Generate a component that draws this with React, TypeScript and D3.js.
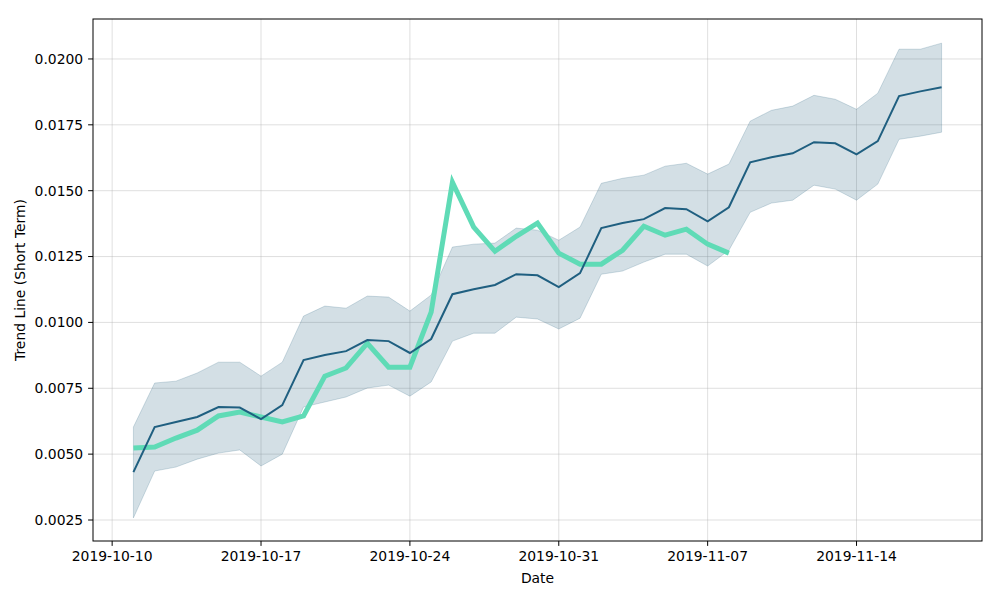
import React from "react";
import * as d3 from "d3";

const startDate = "2019-10-11";
const trendMean = [0.00432, 0.00603, 0.00622, 0.00641, 0.00679, 0.00677, 0.00633, 0.00686, 0.00857, 0.00876,
  0.00891, 0.00933, 0.00929, 0.00884, 0.00937, 0.01107, 0.01126, 0.01142, 0.01183, 0.01179,
  0.01134, 0.01187, 0.01358, 0.01377, 0.01392, 0.01434, 0.0143, 0.01384, 0.01437, 0.01608,
  0.01627, 0.01642, 0.01684, 0.0168, 0.01638, 0.01688, 0.01859, 0.01877, 0.01893];
const trendUpper = [0.00603, 0.0077, 0.00777, 0.00808, 0.00849, 0.00849, 0.00796, 0.00849, 0.01024, 0.01062,
  0.01054, 0.011, 0.01096, 0.01043, 0.01104, 0.01286, 0.01297, 0.01301, 0.01358, 0.0135,
  0.01312, 0.01362, 0.01528, 0.01547, 0.01559, 0.01593, 0.01604, 0.01563, 0.01601, 0.01764,
  0.01805, 0.01821, 0.01862, 0.01847, 0.01809, 0.0187, 0.02037, 0.02037, 0.0206];
const trendLower = [0.00258, 0.00436, 0.00451, 0.00481, 0.00504, 0.00516, 0.00455, 0.005, 0.00679, 0.00698,
  0.00717, 0.00751, 0.00762, 0.0072, 0.00774, 0.00929, 0.00959, 0.00959, 0.0102, 0.01013,
  0.00975, 0.01016, 0.01183, 0.01195, 0.01229, 0.01259, 0.01259, 0.01214, 0.01274, 0.01418,
  0.01453, 0.01464, 0.01521, 0.01506, 0.01464, 0.01525, 0.01695, 0.01707, 0.01722];
const actual = [0.00523, 0.00527, 0.00561, 0.00591, 0.00645, 0.0066, 0.00641, 0.00622, 0.00645, 0.00796,
  0.00827, 0.00921, 0.0083, 0.0083, 0.01039, 0.01532, 0.01362, 0.0127, 0.01327, 0.01377,
  0.01263, 0.01221, 0.01221, 0.01274, 0.01365, 0.01331, 0.01354, 0.01297, 0.01263];
const yTicks = [0.0025, 0.005, 0.0075, 0.01, 0.0125, 0.015, 0.0175, 0.02];
const xTickLabels = ["2019-10-10", "2019-10-17", "2019-10-24", "2019-10-31", "2019-11-07", "2019-11-14"];

const W = 1000, H = 600;
const m = { left: 93, right: 982, top: 19, bottom: 541 };
const parse = d3.utcParse("%Y-%m-%d");
const DAY = 86400000;

export default function App() {
  const t0 = parse(startDate)!.getTime();
  const dates = trendMean.map((_, i) => new Date(t0 + i * DAY));
  const span = (dates[dates.length - 1].getTime() - t0);
  const x = d3.scaleUtc()
    .domain([new Date(t0 - span * 0.05), new Date(t0 + span * 1.05)])
    .range([m.left, m.right]);
  const y = d3.scaleLinear().domain([0.001703, 0.021517]).range([m.bottom, m.top]);

  const area = d3.area<number>()
    .x((_, i) => x(dates[i]))
    .y0((_, i) => y(trendLower[i]))
    .y1((d) => y(d));
  const line = d3.line<number>().x((_, i) => x(dates[i])).y((d) => y(d));

  const font = "DejaVu Sans, sans-serif";
  const fs = 13.9;
  const tickLen = 4.9;

  return (
    <svg width={W} height={H} style={{ position: "absolute", left: 0, top: 0, background: "#fff" }}
      fontFamily={font}>
      <rect x={0} y={0} width={W} height={H} fill="#fff" />
      {xTickLabels.map((s) => {
        const px = x(parse(s)!);
        return <line key={"gx" + s} x1={px} x2={px} y1={m.top} y2={m.bottom} stroke="#b0b0b0" strokeOpacity={0.4} strokeWidth={1} />;
      })}
      {yTicks.map((v) => (
        <line key={"gy" + v} x1={m.left} x2={m.right} y1={y(v)} y2={y(v)} stroke="#b0b0b0" strokeOpacity={0.4} strokeWidth={1} />
      ))}
      <path d={area(trendUpper)!} fill="#225e7c" fillOpacity={0.2} stroke="#225e7c" strokeOpacity={0.2} strokeWidth={1} />
      <path d={line(actual)!} fill="none" stroke="#5fdbb6" strokeWidth={5} strokeLinejoin="miter" />
      <path d={line(trendMean)!} fill="none" stroke="#1f5f80" strokeWidth={2} />
      <rect x={m.left} y={m.top} width={m.right - m.left} height={m.bottom - m.top} fill="none" stroke="#000" strokeWidth={1} />
      {xTickLabels.map((s) => {
        const px = x(parse(s)!);
        return (
          <g key={"xt" + s}>
            <line x1={px} x2={px} y1={m.bottom} y2={m.bottom + tickLen} stroke="#000" />
            <text x={px} y={m.bottom + tickLen + 4.9} dy="0.76em" textAnchor="middle" fontSize={fs}>{s}</text>
          </g>
        );
      })}
      {yTicks.map((v) => (
        <g key={"yt" + v}>
          <line x1={m.left - tickLen} x2={m.left} y1={y(v)} y2={y(v)} stroke="#000" />
          <text x={m.left - tickLen - 4.9} y={y(v)} dy="0.35em" textAnchor="end" fontSize={fs}>{d3.format(".4f")(v)}</text>
        </g>
      ))}
      <text x={(m.left + m.right) / 2} y={583} textAnchor="middle" fontSize={fs}>Date</text>
      <text transform={`translate(25,${(m.top + m.bottom) / 2}) rotate(-90)`} textAnchor="middle" fontSize={fs}>Trend Line (Short Term)</text>
    </svg>
  );
}
